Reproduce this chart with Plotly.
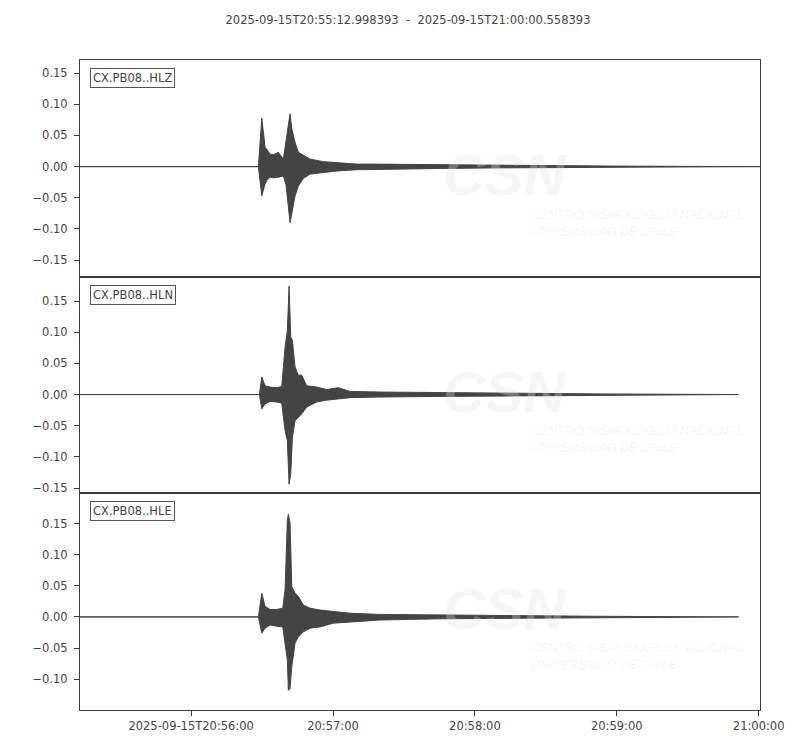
import pandas as pd
import plotly.graph_objects as go
from plotly.subplots import make_subplots

# reference minute for the offsets below
T0 = pd.Timestamp("2025-09-15T20:56:00")
START = "2025-09-15T20:55:12.998393"
END = "2025-09-15T21:00:00.558393"

CHANNELS = ["CX.PB08..HLZ", "CX.PB08..HLN", "CX.PB08..HLE"]

# envelope of each trace: seconds after 20:56:00, upper and lower peak
T_HLZ = [-47.0016, 28.44, 29.87, 31.27, 31.99, 33.38, 34.78, 36.89, 39.00, 40.14, 41.83, 42.55,
         43.94, 45.34, 47.45, 50.28, 55.90, 61.56, 70.01, 76.9, 105.2, 130.6, 143.2, 180.0, 240.558]
UP_HLZ = [0, 0, 0.078, 0.031, 0.028, 0.020, 0.019, 0.023, 0.012, 0.045, 0.085, 0.061,
          0.039, 0.023, 0.018, 0.012, 0.008, 0.006, 0.004, 0.004, 0.003, 0.002, 0.0015, 0.0008, 0]
LO_HLZ = [0, 0, -0.047, -0.028, -0.022, -0.017, -0.018, -0.017, -0.015, -0.030, -0.090, -0.074,
          -0.047, -0.031, -0.019, -0.012, -0.009, -0.007, -0.005, -0.004, -0.003, -0.002, -0.0015, -0.0008, 0]

T_HLN = [-47.0016, 28.86, 29.87, 31.27, 33.38, 36.21, 38.32, 39.72, 40.69, 41.41, 42.13, 42.80,
         43.94, 45.34, 46.78, 48.89, 53.11, 57.34, 62.24, 67.18, 79.86, 105.2, 130.6, 155.9, 172.8, 231.5]
UP_HLN = [0, 0, 0.028, 0.014, 0.012, 0.011, 0.013, 0.076, 0.103, 0.174, 0.092, 0.087,
          0.044, 0.031, 0.031, 0.014, 0.012, 0.008, 0.011, 0.005, 0.004, 0.003, 0.002, 0.0015, 0.001, 0]
LO_HLN = [0, 0, -0.023, -0.015, -0.011, -0.012, -0.014, -0.058, -0.074, -0.144, -0.127, -0.069,
          -0.042, -0.036, -0.031, -0.020, -0.012, -0.009, -0.007, -0.005, -0.004, -0.003, -0.002, -0.0015, -0.001, 0]

T_HLE = [-47.0016, 28.44, 29.87, 31.27, 33.38, 36.21, 38.75, 39.72, 40.69, 41.11, 41.83, 42.55,
         43.94, 45.34, 47.45, 50.28, 54.51, 60.13, 67.18, 79.86, 105.2, 130.6, 155.9, 172.8, 231.5]
UP_HLE = [0, 0, 0.038, 0.017, 0.012, 0.012, 0.014, 0.044, 0.156, 0.165, 0.151, 0.049,
          0.038, 0.033, 0.019, 0.014, 0.011, 0.009, 0.006, 0.004, 0.003, 0.002, 0.0015, 0.001, 0]
LO_HLE = [0, 0, -0.026, -0.018, -0.013, -0.015, -0.016, -0.042, -0.069, -0.118, -0.115, -0.080,
          -0.042, -0.032, -0.024, -0.018, -0.016, -0.010, -0.008, -0.005, -0.003, -0.002, -0.0015, -0.001, 0]

Y_RANGES = [[-0.177, 0.171], [-0.158, 0.1886], [-0.1495, 0.199]]

X_TICKS = ["2025-09-15T20:56:00", "2025-09-15T20:57:00", "2025-09-15T20:58:00",
           "2025-09-15T20:59:00", "2025-09-15T21:00:00"]
X_TICKTEXT = ["2025-09-15T20:56:00", "20:57:00", "20:58:00", "20:59:00", "21:00:00"]

traces = [(T_HLZ, UP_HLZ, LO_HLZ), (T_HLN, UP_HLN, LO_HLN), (T_HLE, UP_HLE, LO_HLE)]

INK = "#444444"
FRAME = "#3a3a3a"
FONT = "DejaVu Sans"
FSIZE = 11.5
WATER = "rgba(225,225,225,0.3)"

fig = make_subplots(rows=3, cols=1, shared_xaxes=True, vertical_spacing=0)

for i, (t, up, lo) in enumerate(traces):
    times = list(T0 + pd.to_timedelta(t, unit="s"))
    fig.add_trace(go.Scatter(
        x=times + times[::-1],
        y=up + lo[::-1],
        mode="lines",
        fill="toself",
        fillcolor=INK,
        line=dict(color=INK, width=1),
        hoverinfo="skip",
        showlegend=False,
    ), row=i + 1, col=1)

# panel domains (top panel first)
domains = [[0.6662, 1.0], [0.3338, 0.6662], [0.0, 0.3338]]

for i in range(3):
    r = i + 1
    fig.update_yaxes(
        row=r, col=1, domain=domains[i], range=Y_RANGES[i],
        dtick=0.05, tick0=0, tickformat=".2f",
        ticks="outside", ticklen=5, tickcolor=FRAME, ticklabelstandoff=4,
        showline=True, linecolor=FRAME, linewidth=1, mirror=True,
        showgrid=False, zeroline=False,
        tickfont=dict(family=FONT, size=FSIZE, color=INK),
    )
    fig.update_xaxes(
        row=r, col=1, range=[START, END],
        showline=True, linecolor=FRAME, linewidth=1, mirror=True,
        showgrid=False, zeroline=False,
        ticks="outside" if r == 3 else "", ticklen=5, tickcolor=FRAME,
        tickvals=X_TICKS, ticktext=X_TICKTEXT,
        showticklabels=(r == 3),
        tickfont=dict(family=FONT, size=FSIZE, color=INK),
    )

    yref = "y domain" if r == 1 else f"y{r} domain"
    xref = "x domain" if r == 1 else f"x{r} domain"

    # faint CSN watermark
    fig.add_annotation(text="<b><i>CSN</i></b>", xref=xref, yref=yref, x=0.625, y=0.47,
                       showarrow=False, font=dict(family="Liberation Sans", size=58, color=WATER))
    fig.add_annotation(text="<i>CENTRO SISMOLÓGICO NACIONAL</i>", xref=xref, yref=yref,
                       x=0.66, y=0.245, xanchor="left", showarrow=False,
                       font=dict(family="Liberation Sans", size=12.5, color=WATER))
    fig.add_annotation(text="<i>UNIVERSIDAD DE CHILE</i>", xref=xref, yref=yref,
                       x=0.66, y=0.165, xanchor="left", showarrow=False,
                       font=dict(family="Liberation Sans", size=12.5, color=WATER))

    # channel label box
    fig.add_annotation(text=CHANNELS[i], xref=xref, yref=yref, x=0.015, y=0.965,
                       xanchor="left", yanchor="top", showarrow=False,
                       bgcolor="white", bordercolor="#555555", borderwidth=1, borderpad=2,
                       font=dict(family=FONT, size=FSIZE, color=INK))

fig.update_layout(
    width=800, height=750,
    margin=dict(l=72, r=48, t=52, b=48),
    paper_bgcolor="white", plot_bgcolor="white",
    title=dict(text="2025-09-15T20:55:12.998393\u00a0\u00a0-\u00a0\u00a02025-09-15T21:00:00.558393",
               x=0.5, xanchor="center", y=0.984, yanchor="middle",
               font=dict(family=FONT, size=FSIZE, color=INK)),
)

fig.write_html("out.html")
